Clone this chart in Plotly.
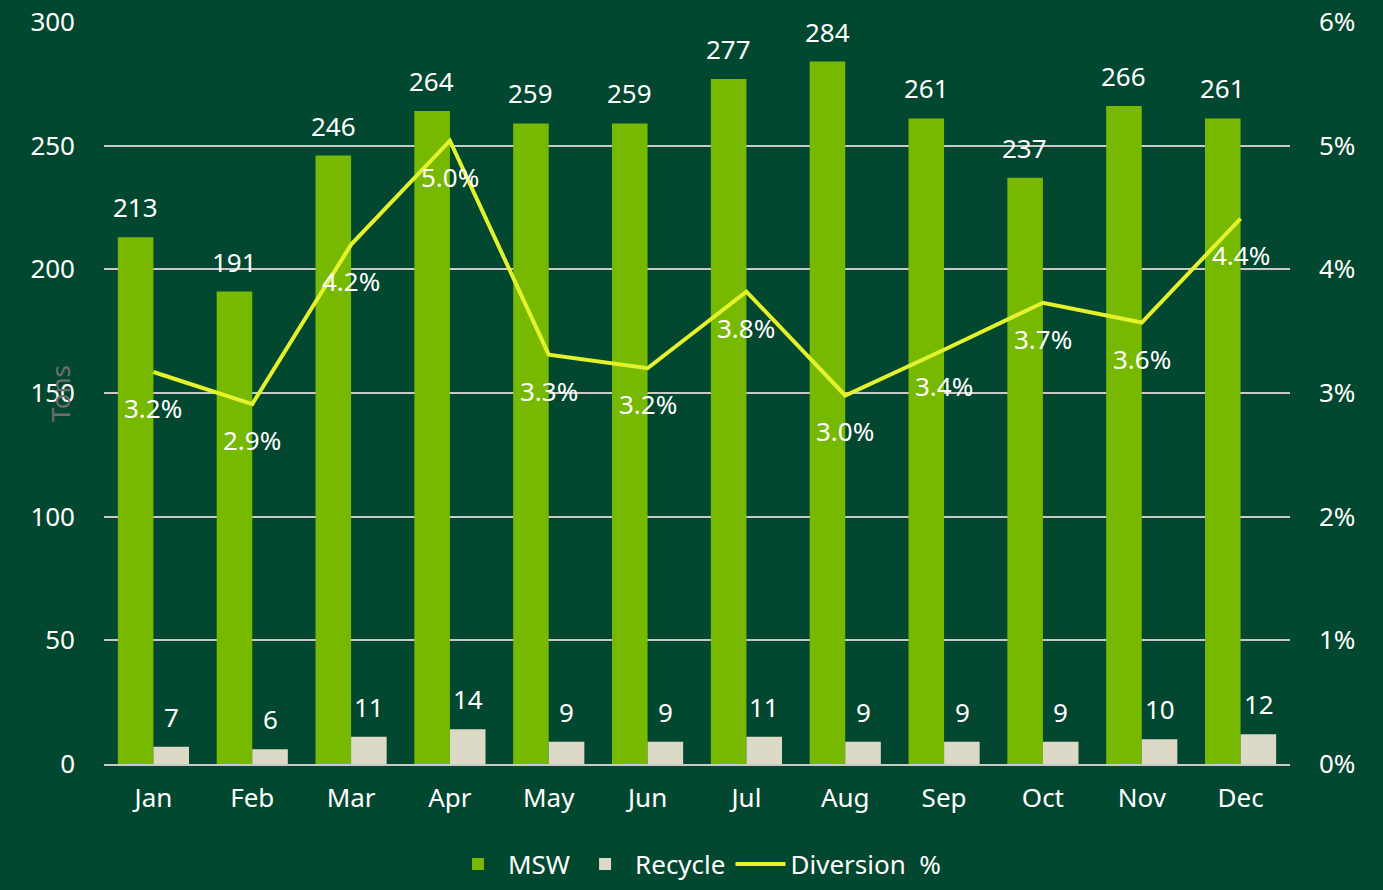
import plotly.graph_objects as go

BACKGROUND = "#02472f"
WHITE = "#ffffff"
GREEN = "#76b900"
BEIGE = "#dcd9c6"
YELLOW = "#e3f22c"
GRID = "#c9c9c9"
FONT = "Noto Sans"

months = ["Jan", "Feb", "Mar", "Apr", "May", "Jun", "Jul", "Aug", "Sep", "Oct", "Nov", "Dec"]
msw = [213, 191, 246, 264, 259, 259, 277, 284, 261, 237, 266, 261]
recycle = [7, 6, 11, 14, 9, 9, 11, 9, 9, 9, 10, 12]
diversion = [0.0317, 0.0291, 0.0420, 0.0504, 0.0331, 0.0320, 0.0382, 0.0298, 0.0335, 0.0373, 0.0357, 0.0441]

fig = go.Figure()

fig.add_trace(go.Bar(x=months, y=msw, name="MSW", marker=dict(color=GREEN, line=dict(width=0))))
fig.add_trace(go.Bar(x=months, y=recycle, name="Recycle", marker=dict(color=BEIGE, line=dict(width=0))))
fig.add_trace(go.Scatter(
    x=months, y=diversion, name="Diversion  %", yaxis="y2",
    mode="lines", line=dict(color=YELLOW, width=4),
))

# data labels, placed like excel does
annotations = []
for m, v in zip(months, msw):
    annotations.append(dict(x=m, y=v, xref="x", yref="y", text=str(v), showarrow=False,
                            xshift=-18, yshift=10, yanchor="bottom",
                            font=dict(size=26, color=WHITE, family=FONT)))
for m, v in zip(months, recycle):
    annotations.append(dict(x=m, y=v, xref="x", yref="y", text=str(v), showarrow=False,
                            xshift=18, yshift=10, yanchor="bottom",
                            font=dict(size=26, color=WHITE, family=FONT)))
for m, v in zip(months, diversion):
    annotations.append(dict(x=m, y=v, xref="x", yref="y2", text=f"{v * 100:.1f}%", showarrow=False,
                            yshift=-36, yanchor="middle",
                            font=dict(size=26, color=WHITE, family=FONT)))
annotations.append(dict(x=-0.054, y=0.5, xref="paper", yref="paper", text="Tons", textangle=-90,
                        showarrow=False, font=dict(size=26, color="#6e6e6e", family=FONT)))

fig.update_layout(
    width=1383,
    height=890,
    paper_bgcolor=BACKGROUND,
    plot_bgcolor=BACKGROUND,
    font=dict(family=FONT, color=WHITE, size=26),
    margin=dict(l=104, r=93, t=22, b=126, autoexpand=False),
    barmode="group",
    bargap=0.28,
    bargroupgap=0,
    showlegend=True,
    legend=dict(orientation="h", x=0.5, xanchor="center", y=-0.135, yanchor="middle",
                font=dict(size=26, color=WHITE), itemwidth=50, bgcolor="rgba(0,0,0,0)"),
    xaxis=dict(showgrid=False, showline=True, linecolor=GRID, linewidth=1.5,
               ticks="", ticklabelstandoff=10, tickfont=dict(size=26)),
    yaxis=dict(range=[0, 300], dtick=50, showgrid=True, gridcolor=GRID, gridwidth=1.5,
               zeroline=False, showline=False, ticks="", ticklabelstandoff=28,
               tickfont=dict(size=26)),
    yaxis2=dict(range=[0, 0.06], dtick=0.01, tickformat=".0%", overlaying="y", side="right",
                showgrid=False, zeroline=False, showline=False, ticks="", ticklabelstandoff=28,
                tickfont=dict(size=26)),
    annotations=annotations,
)

fig.write_html("out.html", config={"displayModeBar": False},
               post_script="document.body.style.margin='0';document.body.style.overflow='hidden';")
